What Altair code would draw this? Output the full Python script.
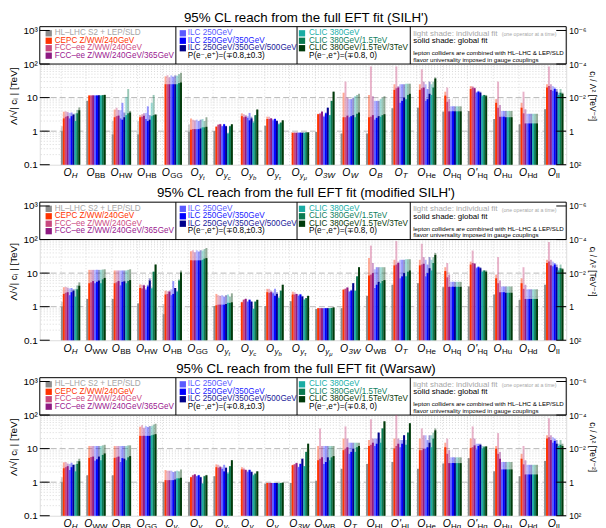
import altair as alt
import pandas as pd

# ---------------- data ----------------
SERIES = ["HL–LHC S2 + LEP/SLD", "CEPC Z/WW/240GeV", "FCC–ee Z/WW/240GeV", "FCC–ee Z/WW/240GeV/365GeV",
          "ILC 250GeV", "ILC 250GeV/350GeV", "ILC 250GeV/350GeV/500GeV",
          "CLIC 380GeV", "CLIC 380GeV/1.5TeV", "CLIC 380GeV/1.5TeV/3TeV"]
COLORS = ["#8c8c8c", "#ff3300", "#c8487f", "#8e1a82", "#5a5aff", "#0000ff", "#00008b",
          "#1aaca4", "#0b7a52", "#003a0a"]
TEXT_COLORS = ["#a6a6a6", "#ff3300", "#cc4c84", "#9a2090", "#5a5aff", "#1a1aff", "#1a1a99",
               "#20b0aa", "#108060", "#0a3a0a"]

TITLES = ["95% CL reach from the full EFT fit (SILH')",
          "95% CL reach from the full EFT fit (modified SILH')",
          "95% CL reach from the full EFT fit (Warsaw)"]

SILH_OPS = ["H", "BB", "HW", "HB", "GG", "yt", "yc", "yb", "ytau", "ymu",
            "3W", "W", "B", "T", "He", "Hq", "Hq'", "Hu", "Hd", "ll"]
SILH_GLOBAL = {
    "H": [1.0, 2.4, 2.7, 2.8, 2.4, 2.8, 3.1, 2.0, 3.4, 4.2],
    "BB": [8.0, 11.5, 11.5, 11.6, 11.5, 11.6, 11.7, 11.5, 11.8, 12.0],
    "HW": [0.8, 2.6, 2.8, 2.9, 2.4, 2.2, 2.6, 3.0, 3.4, 3.6],
    "HB": [0.8, 2.6, 2.7, 2.9, 2.3, 2.0, 2.2, 2.8, 3.0, 3.1],
    "GG": [None, 25, 25, 25, 25, 25, 25, 25, 27, 28],
    "yt": [0.95, 1.1, 1.15, 1.15, 1.15, 1.15, 1.2, 1.3, 1.3, 1.35],
    "yc": [1.0, 1.35, 1.55, 1.6, 1.4, 1.6, 1.4, 0.85, 1.4, 1.6],
    "yb": [None, 2.8, 2.6, 2.7, 2.5, 2.1, 2.4, 1.8, 3.0, 4.4],
    "ytau": [1.45, 2.3, 2.3, 2.4, 2.1, 2.3, 2.0, 1.6, 1.8, 2.1],
    "ymu": [None, 0.9, 0.9, 0.9, 0.9, 0.9, 0.9, 0.9, 0.92, 0.92],
    "3W": [0.95, 3.2, 3.3, 3.8, 2.7, 3.4, 5.0, 3.0, 8.0, 15.0],
    "W": [0.85, 2.6, 2.6, 2.9, 2.6, 2.8, 3.0, 2.6, 3.3, 3.6],
    "B": [0.85, 2.6, 2.7, 3.0, 2.2, 2.5, 2.8, 2.7, 3.0, 3.2],
    "T": [4.8, 17, 19, 20, 7, 8, 10, 9, 12, 13],
    "He": [5.0, 17, 19, 20, 8, 9, 13, 12, 20, 37],
    "Hq": [3.8, 11.5, 7.5, 3.9, 3.9, 3.9, 3.9, 3.9, 3.9, 3.9],
    "Hq'": [4.0, 18, 20, 19, 14, 15, 14, 11, 12, 11],
    "Hu": [2.3, 7, 5, 2.7, 2.7, 2.7, 2.6, 2.6, 2.6, 2.6],
    "Hd": [1.6, 5, 3.4, 1.7, 1.7, 1.7, 1.7, 1.7, 1.7, 1.7],
    "ll": [4.5, 20, 22, 17, 16, 18, 15, 12, 14, 13],
}
SILH_INDIV = {
    "H": [1.4, 3.8, 3.9, 3.7, 3.5, 3.6, 3.3, 3.4, 4.3, 5.1],
    "BB": [8.0, 11.8, 11.8, 11.8, 11.8, 11.8, 11.8, 11.8, 12.0, 12.2],
    "HW": [2.0, 4.4, 5.0, 4.3, 4.2, 7.0, 3.6, 10.5, 18.0, 4.0],
    "HB": [2.0, 3.0, 3.2, 3.4, 3.5, 5.5, 3.0, 7.0, 12.0, 3.2],
    "GG": [None, 43, 46, 40, 46, 42, 46, 45, 50, 55],
    "yt": [1.6, 2.4, 2.2, 2.1, 2.2, 2.0, 2.2, 2.3, 2.0, 2.6],
    "yc": [1.0, 1.4, 1.6, 1.65, 1.45, 1.65, 1.45, 0.9, 1.45, 1.6],
    "yb": [None, 3.4, 3.2, 3.0, 2.8, 3.5, 2.7, 2.0, 3.0, 4.4],
    "ytau": [1.45, 2.7, 2.7, 2.4, 2.3, 2.4, 2.1, 1.7, 1.8, 2.1],
    "ymu": [None, 0.9, 0.9, 0.9, 0.9, 0.9, 0.9, 0.9, 0.92, 0.92],
    "3W": [0.95, 3.3, 3.5, 3.9, 2.9, 3.6, 5.0, 3.0, 8.0, 15.0],
    "W": [0.85, 14, 30, 10, 9, 9, 10, 11, 12, 13],
    "B": [0.85, 12, 85, 11, 8, 8, 8, 9, 10, 11],
    "T": [4.8, 25, 85, 22, 25, 25, 25, 26, 26, 26],
    "He": [5.0, 25, 70, 30, 25, 18, 30, 25, 30, 40],
    "Hq": [3.8, 15, 20, 9, 5.5, 5.5, 5.5, 5.5, 5.5, 5.5],
    "Hq'": [4.0, 22, 22, 20, 15, 16, 15, 12, 12, 12],
    "Hu": [2.3, 9, 30, 6, 4, 4, 4, 4, 4, 4],
    "Hd": [1.6, 7, 15, 4.5, 3.3, 3.3, 3.3, 3.3, 3.3, 3.3],
    "ll": [4.5, 25, 85, 25, 22, 20, 18, 14, 18, 14],
}

MSILH_OPS = ["H", "WW", "BB", "HW", "HB", "GG", "yt", "yc", "yb", "ytau", "ymu",
             "3W", "WB", "T", "He", "Hq", "Hq'", "Hu", "Hd", "ll"]
MSILH_GLOBAL = {
    "H": [1.0, 2.4, 2.6, 2.7, 2.2, 2.7, 3.0, 2.0, 3.3, 4.2],
    "WW": [1.7, 5.0, 5.3, 5.8, 5.0, 5.5, 6.0, 5.0, 6.5, 7.2],
    "BB": [1.7, 5.0, 5.3, 5.8, 4.3, 5.5, 5.7, 5.0, 5.8, 6.2],
    "HW": [1.25, 3.6, 3.5, 4.3, 3.2, 4.0, 6.0, 3.5, 11, 18],
    "HB": [0.6, 2.3, 2.4, 2.8, 2.2, 2.4, 3.6, 2.8, 6.0, 10.5],
    "GG": [None, 24, 24, 24, 24, 24, 24, 25, 27, 28],
    "yt": [1.05, 1.1, 1.15, 1.15, 1.15, 1.15, 1.2, 1.3, 1.3, 1.35],
    "yc": [None, 1.35, 1.6, 1.7, 1.4, 1.6, 1.4, 0.85, 1.4, 1.6],
    "yb": [1.05, 2.7, 2.6, 2.7, 2.5, 2.1, 2.4, 1.8, 3.0, 4.5],
    "ytau": [1.45, 2.3, 2.3, 2.4, 2.1, 2.3, 2.0, 1.6, 1.8, 2.1],
    "ymu": [0.85, 0.9, 0.9, 0.9, 0.9, 0.9, 0.9, 0.9, 0.92, 0.95],
    "3W": [0.9, 3.2, 3.4, 3.7, 2.8, 3.0, 5.0, 3.0, 8.0, 15.0],
    "WB": [2.1, 8.5, 9, 10, 3.6, 4.5, 5.5, 5, 5.8, 6.2],
    "T": [4.5, 17, 18, 20, 7, 8, 10, 8, 11, 12],
    "He": [5.0, 17, 18, 19, 8, 10, 14, 12, 20, 35],
    "Hq": [3.8, 11.5, 7.5, 3.9, 3.9, 3.9, 3.9, 3.9, 3.9, 3.9],
    "Hq'": [4.0, 18, 20, 19, 14, 15, 14, 11, 12, 11],
    "Hu": [2.3, 7, 5, 2.7, 2.7, 2.7, 2.6, 2.6, 2.6, 2.6],
    "Hd": [1.6, 5, 3.4, 1.7, 1.7, 1.7, 1.7, 1.7, 1.7, 1.7],
    "ll": [4.5, 20, 22, 17, 16, 18, 15, 12, 14, 13],
}
MSILH_INDIV = {
    "H": [1.4, 3.8, 3.9, 3.7, 3.5, 3.6, 3.3, 3.4, 4.3, 5.3],
    "WW": [1.7, 12.5, 12.5, 12.5, 12.5, 12.5, 12.5, 12.5, 12.8, 13],
    "BB": [1.7, 12, 12, 12, 12, 12, 12, 12, 12.5, 13],
    "HW": [1.25, 4.6, 4.5, 4.5, 3.5, 4.5, 7.0, 3.8, 11, 18],
    "HB": [1.2, 3.0, 2.9, 3.0, 3.3, 5.8, 3.6, 3.0, 6.5, 12],
    "GG": [None, 45, 48, 42, 48, 44, 48, 47, 52, 56],
    "yt": [1.05, 2.4, 2.2, 2.1, 2.2, 2.0, 2.2, 2.3, 2.0, 2.5],
    "yc": [None, 1.4, 1.65, 1.75, 1.45, 1.65, 1.45, 0.9, 1.45, 1.6],
    "yb": [1.05, 3.4, 3.4, 3.0, 2.8, 3.4, 2.7, 2.0, 3.0, 4.5],
    "ytau": [1.45, 2.8, 2.7, 2.4, 2.3, 2.4, 2.1, 1.7, 1.8, 2.1],
    "ymu": [0.85, 0.9, 0.9, 0.9, 0.9, 0.9, 0.9, 0.9, 0.92, 0.95],
    "3W": [0.9, 3.3, 3.5, 3.8, 2.9, 3.2, 5.0, 3.0, 8.0, 15.0],
    "WB": [2.1, 28, 66, 20, 13, 15, 15, 15, 15, 15],
    "T": [4.5, 25, 90, 22, 25, 25, 25, 26, 26, 26],
    "He": [5.0, 25, 75, 30, 25, 18, 30, 25, 30, 40],
    "Hq": [3.8, 15, 20, 9, 5.5, 5.5, 5.5, 5.5, 5.5, 5.5],
    "Hq'": [4.0, 22, 47, 20, 15, 16, 15, 12, 12, 12],
    "Hu": [2.3, 9, 30, 6, 4, 4, 4, 4, 4, 4],
    "Hd": [1.6, 7, 15, 4.5, 3.3, 3.3, 3.3, 3.3, 3.3, 3.3],
    "ll": [4.5, 25, 85, 25, 22, 20, 18, 14, 18, 14],
}

WARSAW_OPS = ["H", "WW", "BB", "GG", "yt", "yc", "yb", "ytau", "ymu", "3W",
              "WB", "T", "HL", "HL'", "He", "Hq", "Hq'", "Hu", "Hd", "ll"]
WARSAW_GLOBAL = {
    "H": [1.0, 2.6, 2.8, 3.0, 2.3, 2.8, 3.3, 2.1, 3.5, 4.2],
    "WW": [1.6, 5.3, 5.6, 5.8, 4.4, 4.8, 5.8, 4.5, 6.5, 7.2],
    "BB": [1.6, 5.3, 5.5, 5.8, 4.0, 5.2, 5.0, 4.5, 5.5, 6.0],
    "GG": [None, 24, 24, 24, 24, 24, 24, 25, 26, 27],
    "yt": [1.0, 1.15, 1.15, 1.15, 1.15, 1.15, 1.2, 1.3, 1.3, 1.35],
    "yc": [1.0, 1.4, 1.6, 1.7, 1.5, 1.6, 1.4, 0.9, 1.5, 1.6],
    "yb": [1.5, 2.8, 2.7, 2.8, 2.5, 2.1, 2.7, 1.8, 3.0, 4.5],
    "ytau": [None, 2.4, 2.4, 2.3, 2.0, 2.3, 2.0, 1.6, 1.8, 2.1],
    "ymu": [0.9, 0.95, 0.95, 0.95, 0.95, 0.95, 0.95, 0.92, 0.95, 0.97],
    "3W": [0.95, 3.2, 3.4, 3.7, 2.8, 3.5, 5.0, 3.0, 8.0, 14.0],
    "WB": [1.1, 4.5, 5.0, 5.5, 3.5, 4.0, 5.5, 4.5, 5.5, 6.0],
    "T": [2.5, 9, 10, 11, 7, 8, 10, 8, 11, 12],
    "HL": [3.5, 12, 13, 15, 12, 14, 30, 15, 40, 65],
    "HL'": [4.0, 10, 12, 14, 11, 14, 25, 13, 30, 57],
    "He": [2.5, 9, 9, 10, 10, 11, 15, 11, 20, 35],
    "Hq": [3.6, 11, 7, 3.7, 3.7, 3.7, 3.7, 3.7, 3.7, 3.7],
    "Hq'": [5.2, 10.5, 11, 12.5, 9.5, 12, 13, 10, 11, 11.5],
    "Hu": [2.1, 10, 7, 5, 2.4, 2.4, 2.4, 2.4, 2.4, 2.4],
    "Hd": [1.5, 5, 3.4, 1.7, 1.7, 1.7, 1.7, 1.7, 1.7, 1.7],
    "ll": [4.3, 20, 22, 18, 15, 17, 14, 12, 13, 12],
}
WARSAW_INDIV = {
    "H": [1.4, 3.9, 4.0, 3.6, 3.5, 3.8, 3.3, 3.4, 4.3, 5.0],
    "WW": [1.6, 12, 12, 12, 12, 12, 12, 12, 12.5, 13],
    "BB": [1.6, 12, 12, 12, 12, 12, 12, 12, 12.5, 12.5],
    "GG": [None, 45, 50, 42, 47, 44, 47, 47, 52, 55],
    "yt": [1.0, 2.3, 2.2, 2.2, 2.2, 2.0, 2.1, 2.2, 2.1, 2.4],
    "yc": [1.0, 1.45, 1.65, 1.75, 1.55, 1.65, 1.45, 0.95, 1.55, 1.65],
    "yb": [1.5, 3.4, 3.3, 3.0, 2.8, 3.3, 2.7, 2.0, 3.0, 4.5],
    "ytau": [None, 2.8, 2.7, 2.4, 2.2, 2.4, 2.1, 1.7, 1.8, 2.1],
    "ymu": [0.9, 0.95, 0.95, 0.95, 0.95, 0.95, 0.95, 0.92, 0.95, 0.97],
    "3W": [0.95, 3.3, 3.5, 3.8, 2.9, 3.6, 5.0, 3.0, 8.0, 14.0],
    "WB": [1.1, 12, 40, 12, 12, 12, 12, 12, 12, 12],
    "T": [2.5, 20, 46, 20, 15, 15, 15, 15, 15, 15],
    "HL": [3.5, 18, 75, 20, 20, 20, 30, 20, 40, 65],
    "HL'": [4.0, 20, 100, 20, 18, 18, 25, 18, 30, 57],
    "He": [2.5, 20, 40, 25, 25, 18, 25, 25, 30, 40],
    "Hq": [3.6, 15, 20, 9, 5.5, 5.5, 5.5, 5.5, 5.5, 5.5],
    "Hq'": [5.2, 20, 46, 20, 14, 14, 14, 12, 12, 12],
    "Hu": [2.1, 12, 29, 8, 4, 4, 4, 4, 4, 4],
    "Hd": [1.5, 7, 12, 4.5, 3.3, 3.3, 3.3, 3.3, 3.3, 3.3],
    "ll": [4.3, 25, 80, 25, 22, 20, 18, 14, 18, 14],
}

# operator label pieces: (main, subscript, sub-subscript, italic subscript)
OP_LABELS = {
    "H": ("O", "H", "", True), "BB": ("O", "BB", "", False), "WW": ("O", "WW", "", False),
    "HW": ("O", "HW", "", False), "HB": ("O", "HB", "", False), "GG": ("O", "GG", "", False),
    "yt": ("O", "y", "t", True), "yc": ("O", "y", "c", True), "yb": ("O", "y", "b", True),
    "ytau": ("O", "y", "τ", True), "ymu": ("O", "y", "μ", True), "3W": ("O", "3W", "", True),
    "W": ("O", "W", "", True), "B": ("O", "B", "", True), "T": ("O", "T", "", True),
    "WB": ("O", "WB", "", False), "He": ("O", "He", "", False), "Hq": ("O", "Hq", "", False),
    "Hq'": ("O'", "Hq", "", False), "Hu": ("O", "Hu", "", False), "Hd": ("O", "Hd", "", False),
    "ll": ("O", "ll", "", False), "HL": ("O", "HL", "", False), "HL'": ("O'", "HL", "", False),
}

TICK_VALUES = [0.1, 1, 10, 100, 1000]
LEFT_LABELS = ["0.1", "1", "10", "10²", "10³"]
RIGHT_LABELS = ["10²", "1", "10⁻²", "10⁻⁴", "10⁻⁶"]

# ---------------- layout / style ----------------
FONT = "Liberation Sans, Arial, DejaVu Sans"
W, H = 530, 139
Y_TOP = 1300
PAD_IN, PAD_OUT, ALIGN = 0.24, 0.47, 0.884
yscale = alt.Scale(type="log", domain=[0.1, Y_TOP], nice=False)

CW = {"W": 0.944, "B": 0.667, "H": 0.722, "G": 0.778, "T": 0.611, "L": 0.556, "3": 0.556,
      "e": 0.556, "q": 0.556, "u": 0.556, "d": 0.556, "l": 0.222, "y": 0.5, "t": 0.278,
      "c": 0.5, "b": 0.556, "τ": 0.45, "μ": 0.58, "O": 0.778, "'": 0.19}


def tw(s, size):
    return sum(CW.get(c, 0.6) for c in s) * size


def lexpr(labels):
    return (f"datum.value < 0.3 ? '{labels[0]}' : datum.value < 3 ? '{labels[1]}' : "
            f"datum.value < 30 ? '{labels[2]}' : datum.value < 300 ? '{labels[3]}' : '{labels[4]}'")


left_axis = alt.Axis(values=TICK_VALUES, labelExpr=lexpr(LEFT_LABELS), ticks=False, domain=False,
                     grid=False, labelFontSize=10, labelFont=FONT, labelPadding=2.5,
                     title="Λ/√| cᵢ |  [TeV]", titleFont=FONT, titleFontSize=10,
                     titleFontWeight="normal", titlePadding=4, labelColor="black", titleColor="black")
right_axis = alt.Axis(orient="right", values=TICK_VALUES, labelExpr=lexpr(RIGHT_LABELS), ticks=False,
                      domain=False, grid=False, labelFontSize=8.5, labelFont=FONT, labelPadding=2.5,
                      title="cᵢ / Λ²  [TeV⁻²]", titleFont=FONT, titleFontSize=8.5,
                      titleFontWeight="normal", titlePadding=1.5, labelColor="black", titleColor="black")

MINOR = [m * 10.0 ** e for e in range(-1, 3) for m in range(2, 10)]
MAJOR_GRID = [1, 10]
DIVIDERS = [137, 259, 373]
LEG_COL_X = [(9, 15), (144, 149), (264, 271)]
LEG_ROW_Y = [6.7, 14.2, 21.7, 29.2]


def make_panel(title, ops, gvals, ivals):
    rows = []
    for op in ops:
        for k, s in enumerate(SERIES):
            rows.append({"op": op, "series": s, "color": COLORS[k],
                         "g": gvals[op][k], "i": ivals[op][k]})
    df = pd.DataFrame(rows)

    n = len(ops)
    step = W / (n - PAD_IN + 2 * PAD_OUT)
    half_band = step * (1 - PAD_IN) / 2

    xs = alt.Scale(domain=ops, paddingInner=PAD_IN, paddingOuter=PAD_OUT, align=ALIGN)
    xaxis = alt.Axis(title=None, labels=False, ticks=False, domain=False, grid=True,
                     gridDash=[1, 2], gridColor="#d4d4d4", gridWidth=0.8, bandPosition=0)
    xenc = alt.X("op:N", scale=xs, axis=xaxis, sort=ops)
    xoff = alt.XOffset("series:N", sort=SERIES,
                       scale=alt.Scale(domain=SERIES, paddingInner=0, paddingOuter=0))

    dummy = pd.DataFrame({"a": [0]})

    minor = alt.Chart(pd.DataFrame({"v": MINOR})).mark_rule(
        color="#cfcfcf", strokeDash=[1, 2], strokeWidth=0.8).encode(
        y=alt.Y("v:Q", scale=yscale, axis=None))
    major = alt.Chart(pd.DataFrame({"v": MAJOR_GRID})).mark_rule(
        color="#b8b8b8", strokeDash=[6, 3], strokeWidth=1).encode(
        y=alt.Y("v:Q", scale=yscale, axis=None))

    legend_box = alt.Chart(dummy).mark_rect(fill="white", stroke="black", strokeWidth=1).encode(
        x=alt.value(0), x2=alt.value(W),
        y=alt.YDatum(Y_TOP, scale=yscale, axis=None), y2=alt.Y2Datum(100))

    light = alt.Chart(df).transform_filter("isValid(datum.i)").mark_bar(opacity=0.42).encode(
        x=xenc, xOffset=xoff,
        y=alt.Y("i:Q", scale=yscale, axis=right_axis),
        y2=alt.Y2Datum(0.1),
        color=alt.Color("color:N", scale=None))
    solid = alt.Chart(df).transform_filter("isValid(datum.g)").mark_bar().encode(
        x=xenc, xOffset=xoff,
        y=alt.Y("g:Q", scale=yscale, axis=left_axis),
        y2=alt.Y2Datum(0.1),
        color=alt.Color("color:N", scale=None))

    dividers = [alt.Chart(dummy).mark_rule(color="black", strokeWidth=1).encode(
        x=alt.value(px), y=alt.YDatum(Y_TOP, scale=yscale, axis=None), y2=alt.Y2Datum(100))
        for px in DIVIDERS]

    # legend entries
    lrows = []
    for k, s in enumerate(SERIES):
        col = 0 if k < 4 else (1 if k < 7 else 2)
        row = k if k < 4 else (k - 4 if k < 7 else k - 7)
        lrows.append({"label": s, "sx": LEG_COL_X[col][0], "tx": LEG_COL_X[col][1],
                      "y": LEG_ROW_Y[row], "color": COLORS[k], "tcolor": TEXT_COLORS[k]})
    ldf = pd.DataFrame(lrows)
    squares = alt.Chart(ldf).mark_square(size=40, opacity=1).encode(
        x=alt.X("sx:Q", scale=None), y=alt.Y("y:Q", scale=None),
        color=alt.Color("color:N", scale=None))
    ltext = alt.Chart(ldf).mark_text(align="left", baseline="middle", font=FONT, fontSize=8.2).encode(
        x=alt.X("tx:Q", scale=None), y=alt.Y("y:Q", scale=None), text="label:N",
        color=alt.Color("tcolor:N", scale=None))

    extra = [
        ("P(e⁻,e⁺)=(∓0.8,±0.3)", 149, 29.2, 8.2, "black"),
        ("P(e⁻,e⁺)=(∓0.8, 0)", 271, 29.2, 8.2, "black"),
        ("light shade: individual fit", 376, 6.9, 8, "#a8a8a8"),
        ("solid shade: global fit", 376, 14.7, 8, "black"),
        ("lepton colliders are combined with HL–LHC & LEP/SLD", 376, 26.8, 6.2, "black"),
        ("flavor universality imposed in gauge couplings", 376, 33.2, 6.2, "black"),
        ("(one operator at a time)", 465, 7.4, 5.3, "#a8a8a8"),
    ]
    etext = []
    for t, px, py, fs, c in extra:
        etext.append(alt.Chart(pd.DataFrame({"t": [t]})).mark_text(
            align="left", baseline="middle", font=FONT, fontSize=fs, color=c).encode(
            x=alt.value(px), y=alt.value(py), text="t:N"))

    title_mark = alt.Chart(pd.DataFrame({"t": [title]})).mark_text(
        align="center", baseline="middle", font=FONT, fontSize=13.4, color="black").encode(
        x=alt.value(W / 2 + 3), y=alt.value(-9), text="t:N")

    tdf = pd.DataFrame({"v": TICK_VALUES})
    lticks = alt.Chart(tdf).mark_rule(color="black", strokeWidth=1).encode(
        y=alt.Y("v:Q", scale=yscale, axis=None), x=alt.value(0), x2=alt.value(10))
    rticks = alt.Chart(tdf).mark_rule(color="black", strokeWidth=1).encode(
        y=alt.Y("v:Q", scale=yscale, axis=None), x=alt.value(W - 10), x2=alt.value(W))

    # operator labels (xOffset is measured from the band start)
    labrows = []
    for op in ops:
        main, sub, sub2, ital = OP_LABELS[op]
        wo = tw(main, 10.5)
        ws = tw(sub, 8)
        w2 = tw(sub2, 6)
        total = wo + ws + w2 + 0.5
        o_off = half_band - total / 2
        labrows.append({"op": op, "main": main, "sub": sub, "sub2": sub2, "ital": ital,
                        "o_off": o_off, "s_off": o_off + wo + 0.3, "s2_off": o_off + wo + 0.3 + ws})
    labdf = pd.DataFrame(labrows)
    lab_o = alt.Chart(labdf).mark_text(align="left", baseline="alphabetic", font=FONT, fontSize=10.5,
                                       fontStyle="italic", color="black").encode(
        x=xenc, xOffset=alt.XOffset("o_off:Q", scale=None), y=alt.value(H + 11.5), text="main:N")
    lab_si = alt.Chart(labdf[labdf["ital"]]).mark_text(
        align="left", baseline="alphabetic", font=FONT, fontSize=8, fontStyle="italic", color="black").encode(
        x=xenc, xOffset=alt.XOffset("s_off:Q", scale=None), y=alt.value(H + 13.5), text="sub:N")
    lab_su = alt.Chart(labdf[~labdf["ital"]]).mark_text(
        align="left", baseline="alphabetic", font=FONT, fontSize=8, color="black").encode(
        x=xenc, xOffset=alt.XOffset("s_off:Q", scale=None), y=alt.value(H + 13.5), text="sub:N")
    lab_s2 = alt.Chart(labdf[labdf["sub2"] != ""]).mark_text(
        align="left", baseline="alphabetic", font=FONT, fontSize=6, fontStyle="italic", color="black").encode(
        x=xenc, xOffset=alt.XOffset("s2_off:Q", scale=None), y=alt.value(H + 15.5), text="sub2:N")

    layers = [minor, major, legend_box, light, solid] + dividers + [squares, ltext] + etext + \
             [title_mark, lticks, rticks, lab_o, lab_si, lab_su, lab_s2]
    return alt.layer(*layers).resolve_axis(y="independent").properties(width=W, height=H)


panels = [
    make_panel(TITLES[0], SILH_OPS, SILH_GLOBAL, SILH_INDIV),
    make_panel(TITLES[1], MSILH_OPS, MSILH_GLOBAL, MSILH_INDIV),
    make_panel(TITLES[2], WARSAW_OPS, WARSAW_GLOBAL, WARSAW_INDIV),
]

chart = alt.vconcat(*panels, spacing=37.7, bounds="flush").properties(
    padding={"left": 0, "top": 0, "right": 0, "bottom": 0}).configure_view(
    stroke="black", strokeWidth=1.2).configure(background="white")

chart.save("out.html", embed_options={"renderer": "svg", "actions": False})
